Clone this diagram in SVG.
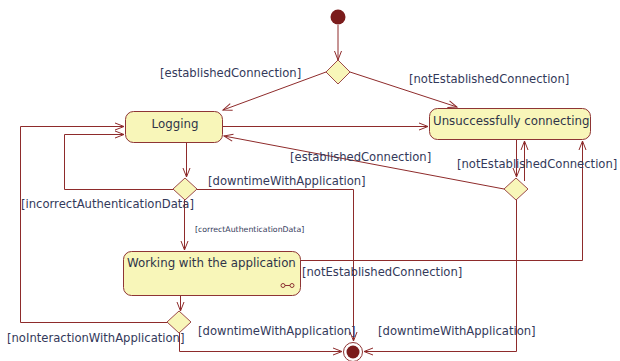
<svg xmlns="http://www.w3.org/2000/svg" width="620" height="361" viewBox="0 0 620 361">
  <style>
    .state { fill: #f8f6b9; stroke: #8e3535; stroke-width: 1; }
    .decision { fill: #f8f6b9; stroke: #9b4a4a; stroke-width: 1; }
    .edge { fill: none; stroke: #8e2b2b; stroke-width: 1; }
    .name { font-family: "DejaVu Sans", Verdana, sans-serif; font-size: 11.8px; fill: #2f3448; }
    .guard { font-family: "DejaVu Sans", Verdana, sans-serif; font-size: 11.6px; fill: #33395a; }
    .small { font-family: "DejaVu Sans", Verdana, sans-serif; font-size: 7.8px; fill: #33395a; }
  </style>
  <defs>
    <marker id="open" viewBox="-10 -5 12 10" refX="0" refY="0" markerWidth="12" markerHeight="10" markerUnits="userSpaceOnUse" orient="auto">
      <path d="M-9,-3.5 L0,0 L-9,3.5" fill="none" stroke="#8e2b2b" stroke-width="1"/>
    </marker>
  </defs>

  <rect width="620" height="361" fill="#ffffff"/>

  <!-- transitions -->
  <g id="connectors">
    <line class="edge" x1="338" y1="25" x2="338" y2="60" marker-end="url(#open)"/>
    <line class="edge" x1="326" y1="72" x2="223" y2="110" marker-end="url(#open)"/>
    <line class="edge" x1="350" y1="72" x2="457" y2="107" marker-end="url(#open)"/>
    <line class="edge" x1="223" y1="126.5" x2="428" y2="126.5" marker-end="url(#open)"/>
    <line class="edge" x1="516.5" y1="140" x2="516.5" y2="177" marker-end="url(#open)"/>
    <line class="edge" x1="524.5" y1="181" x2="524.5" y2="141" marker-end="url(#open)"/>
    <line class="edge" x1="504" y1="189" x2="224" y2="136" marker-end="url(#open)"/>
    <polyline class="edge" points="516.5,200 516.5,351.5 364,351.5" marker-end="url(#open)"/>
    <line class="edge" x1="186.5" y1="143" x2="186.5" y2="177" marker-end="url(#open)"/>
    <polyline class="edge" points="173,189.5 64.5,189.5 64.5,134.5 124,134.5" marker-end="url(#open)"/>
    <polyline class="edge" points="197,189.5 353.5,189.5 353.5,341" marker-end="url(#open)"/>
    <line class="edge" x1="184.5" y1="200" x2="184.5" y2="250" marker-end="url(#open)"/>
    <polyline class="edge" points="301,260.5 582.5,260.5 582.5,141" marker-end="url(#open)"/>
    <line class="edge" x1="180.5" y1="296" x2="180.5" y2="311" marker-end="url(#open)"/>
    <polyline class="edge" points="168,322.5 20.5,322.5 20.5,126.5 124,126.5" marker-end="url(#open)"/>
    <polyline class="edge" points="179.5,333 179.5,351.5 342,351.5" marker-end="url(#open)"/>
  </g>

  <!-- guard labels -->
  <g id="guards">
    <text class="guard" x="160" y="77">[establishedConnection]</text>
    <text class="guard" x="409" y="83">[notEstablishedConnection]</text>
    <text class="guard" x="290" y="161">[establishedConnection]</text>
    <text class="guard" x="457" y="168">[notEstablishedConnection]</text>
    <text class="guard" x="208" y="185">[downtimeWithApplication]</text>
    <text class="guard" x="21" y="208">[incorrectAuthenticationData]</text>
    <text class="small" x="195" y="232">[correctAuthenticationData]</text>
    <text class="guard" x="302" y="276">[notEstablishedConnection]</text>
    <text class="guard" x="198" y="335">[downtimeWithApplication]</text>
    <text class="guard" x="378" y="335">[downtimeWithApplication]</text>
    <text class="guard" x="7" y="342">[noInteractionWithApplication]</text>
  </g>

  <g id="initial">
    <circle cx="338" cy="17" r="7.5" fill="#7b1c1c"/>
  </g>

  <g id="decision-connect">
    <polygon class="decision" points="338,60 350,72 338,84 326,72"/>
  </g>

  <g id="logging">
    <rect class="state" x="125.5" y="111.5" width="97" height="31" rx="8"/>
    <text class="name" x="175" y="128" text-anchor="middle">Logging</text>
  </g>

  <g id="unsuccessfully-connecting">
    <rect class="state" x="429.5" y="108.5" width="161" height="31" rx="8"/>
    <text class="name" x="433" y="125">Unsuccessfully connecting</text>
  </g>

  <g id="decision-retry">
    <polygon class="decision" points="516,178 528,189 516,200 504,189"/>
  </g>

  <g id="decision-auth">
    <polygon class="decision" points="185,178 197,189 185,200 173,189"/>
  </g>

  <g id="working">
    <rect class="state" x="123.5" y="251.5" width="177" height="44" rx="8"/>
    <text class="name" x="127" y="267">Working with the application</text>
    <g fill="none" stroke="#8e3535" stroke-width="1">
      <circle cx="283" cy="285.5" r="2"/>
      <circle cx="292" cy="285.5" r="2"/>
      <line x1="285" y1="285.5" x2="290" y2="285.5"/>
    </g>
  </g>

  <g id="decision-session">
    <polygon class="decision" points="179,311 191,322 179,333 167,322"/>
  </g>

  <g id="final">
    <circle cx="353" cy="352" r="9.5" fill="#ffffff" stroke="#8e3535" stroke-width="1"/>
    <circle cx="353" cy="352" r="6.5" fill="#7b1c1c"/>
  </g>
</svg>
